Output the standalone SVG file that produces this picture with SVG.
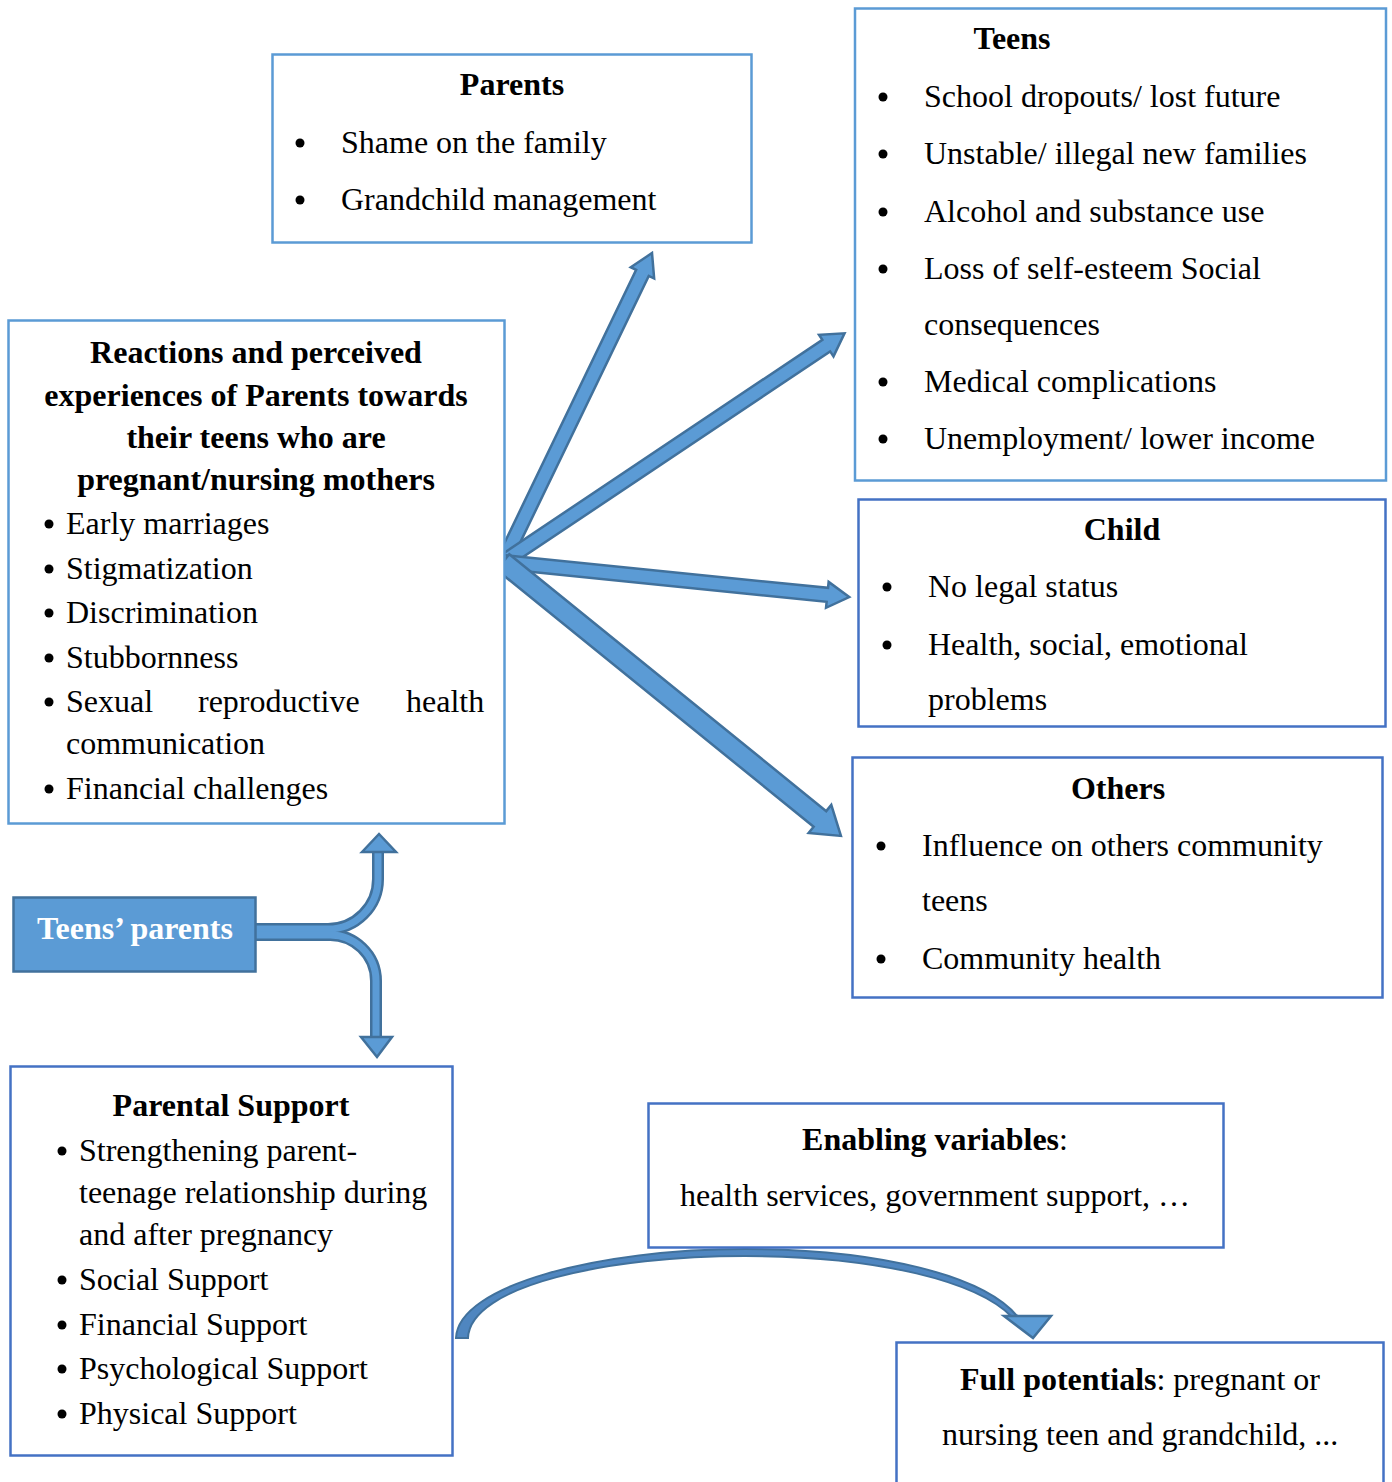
<svg xmlns="http://www.w3.org/2000/svg" width="1392" height="1482" viewBox="0 0 1392 1482">
<style>
text{font-family:"Liberation Serif","Times New Roman",serif;font-size:32px;fill:#000}
.b{font-weight:bold}
.m{text-anchor:middle}
.box1{fill:#fff;stroke:#5B9BD5;stroke-width:2.5}
.box2{fill:#fff;stroke:#4472C4;stroke-width:2.5}
.dot{fill:#000}
.arr{fill:#5B9BD5;stroke:#41719C;stroke-width:2.5;stroke-linejoin:miter}
</style>
<rect width="1392" height="1482" fill="#fff"/>

<g id="connectors">
  <g transform="translate(503,562) rotate(-64.25)"><path class="arr" d="M0,-7 L321,-7 L321,-13 L343,0 L321,13 L321,7 L0,7 Z"/></g>
  <g transform="translate(503,562) rotate(-33.8)"><path class="arr" d="M0,-7 L389,-7 L389,-13 L411,0 L389,13 L389,7 L0,7 Z"/></g>
  <g transform="translate(503,562) rotate(5.78)"><path class="arr" d="M0,-7 L326,-7 L326,-13 L348,0 L326,13 L326,7 L0,7 Z"/></g>
  <g transform="translate(503,562) rotate(39.03)"><path class="arr" d="M0,-10 L408,-10 L408,-18 L435,0 L408,18 L408,10 L0,10 Z"/></g>
  <path d="M256,929 H328 A50,50 0 0 0 378,879 V852" fill="none" stroke="#41719C" stroke-width="12"/>
  <path d="M256,935 H328 A46,46 0 0 1 376,981 V1037" fill="none" stroke="#41719C" stroke-width="12"/>
  <path d="M256,929 H328 A50,50 0 0 0 378,879 V850" fill="none" stroke="#5B9BD5" stroke-width="7"/>
  <path d="M256,935 H328 A46,46 0 0 1 376,981 V1039" fill="none" stroke="#5B9BD5" stroke-width="7"/>
  <polygon class="arr" points="362,852 379,834 396,852"/>
  <polygon class="arr" points="361,1037 377,1057 392,1037"/>
  <path d="M456,1338 C458,1285 600,1249 745,1249 C880,1249 985,1276 1018,1317 L1012,1317 C978,1282 880,1256 745,1256 C610,1256 470,1285 468,1338 Z" fill="#4F86C0" stroke="#41719C" stroke-width="2"/>
  <polygon class="arr" points="1004,1316 1051,1316 1033,1338"/>
</g>

<g id="parents">
  <rect class="box1" x="272.5" y="54.5" width="479" height="188"/>
  <text class="b m" x="512" y="95">Parents</text>
  <circle class="dot" cx="300" cy="143" r="4.5"/>
  <text x="341" y="153">Shame on the family</text>
  <circle class="dot" cx="300" cy="200" r="4.5"/>
  <text x="341" y="210">Grandchild management</text>
</g>

<g id="teens">
  <rect class="box1" x="855" y="8.5" width="531" height="472"/>
  <text class="b m" x="1012" y="49">Teens</text>
  <circle class="dot" cx="883" cy="97" r="4.5"/>
  <text x="924" y="107">School dropouts/ lost future</text>
  <circle class="dot" cx="883" cy="154" r="4.5"/>
  <text x="924" y="164">Unstable/ illegal new families</text>
  <circle class="dot" cx="883" cy="212" r="4.5"/>
  <text x="924" y="222">Alcohol and substance use</text>
  <circle class="dot" cx="883" cy="269" r="4.5"/>
  <text x="924" y="279">Loss of self-esteem Social</text>
  <text x="924" y="335">consequences</text>
  <circle class="dot" cx="883" cy="382" r="4.5"/>
  <text x="924" y="392">Medical complications</text>
  <circle class="dot" cx="883" cy="439" r="4.5"/>
  <text x="924" y="449">Unemployment/ lower income</text>
</g>

<g id="reactions">
  <rect class="box1" x="8.5" y="320.5" width="496" height="503"/>
  <text class="b m" x="256" y="363">Reactions and perceived</text>
  <text class="b m" x="256" y="406">experiences of Parents towards</text>
  <text class="b m" x="256" y="448">their teens who are</text>
  <text class="b m" x="256" y="490">pregnant/nursing mothers</text>
  <circle class="dot" cx="49" cy="524" r="4.5"/>
  <text x="66" y="534">Early marriages</text>
  <circle class="dot" cx="49" cy="569" r="4.5"/>
  <text x="66" y="579">Stigmatization</text>
  <circle class="dot" cx="49" cy="613" r="4.5"/>
  <text x="66" y="623">Discrimination</text>
  <circle class="dot" cx="49" cy="658" r="4.5"/>
  <text x="66" y="668">Stubbornness</text>
  <circle class="dot" cx="49" cy="702" r="4.5"/>
  <text y="712"><tspan x="66">Sexual</tspan><tspan x="198">reproductive</tspan><tspan x="406">health</tspan></text>
  <text x="66" y="754">communication</text>
  <circle class="dot" cx="49" cy="789" r="4.5"/>
  <text x="66" y="799">Financial challenges</text>
</g>

<g id="child">
  <rect class="box2" x="858.5" y="499.5" width="527" height="227"/>
  <text class="b m" x="1122" y="540">Child</text>
  <circle class="dot" cx="887" cy="587" r="4.5"/>
  <text x="928" y="597">No legal status</text>
  <circle class="dot" cx="887" cy="645" r="4.5"/>
  <text x="928" y="655">Health, social, emotional</text>
  <text x="928" y="710">problems</text>
</g>

<g id="others">
  <rect class="box2" x="852.5" y="757.5" width="530" height="240"/>
  <text class="b m" x="1118" y="799">Others</text>
  <circle class="dot" cx="881" cy="846" r="4.5"/>
  <text x="922" y="856">Influence on others community</text>
  <text x="922" y="911">teens</text>
  <circle class="dot" cx="881" cy="959" r="4.5"/>
  <text x="922" y="969">Community health</text>
</g>

<g id="teens-parents">
  <rect x="13.5" y="897.5" width="242" height="74" fill="#5B9BD5" stroke="#41719C" stroke-width="2.5"/>
  <text class="b m" x="135" y="939" style="fill:#fff">Teens’ parents</text>
</g>

<g id="parental-support">
  <rect class="box2" x="10.5" y="1066.5" width="442" height="389"/>
  <text class="b m" x="231" y="1116">Parental Support</text>
  <circle class="dot" cx="62" cy="1151" r="4.5"/>
  <text x="79" y="1161">Strengthening parent-</text>
  <text x="79" y="1203">teenage relationship during</text>
  <text x="79" y="1245">and after pregnancy</text>
  <circle class="dot" cx="62" cy="1280" r="4.5"/>
  <text x="79" y="1290">Social Support</text>
  <circle class="dot" cx="62" cy="1325" r="4.5"/>
  <text x="79" y="1335">Financial Support</text>
  <circle class="dot" cx="62" cy="1369" r="4.5"/>
  <text x="79" y="1379">Psychological Support</text>
  <circle class="dot" cx="62" cy="1414" r="4.5"/>
  <text x="79" y="1424">Physical Support</text>
</g>

<g id="enabling">
  <rect class="box2" x="648.5" y="1103.5" width="575" height="144"/>
  <text class="m" x="935" y="1150"><tspan class="b">Enabling variables</tspan>:</text>
  <text class="m" x="935" y="1206">health services, government support, …</text>
</g>

<g id="full-potentials">
  <rect class="box2" x="896.5" y="1342.5" width="487" height="150"/>
  <text x="960" y="1390"><tspan class="b">Full potentials</tspan>: pregnant or</text>
  <text x="942" y="1445">nursing teen and grandchild, ...</text>
</g>
</svg>
